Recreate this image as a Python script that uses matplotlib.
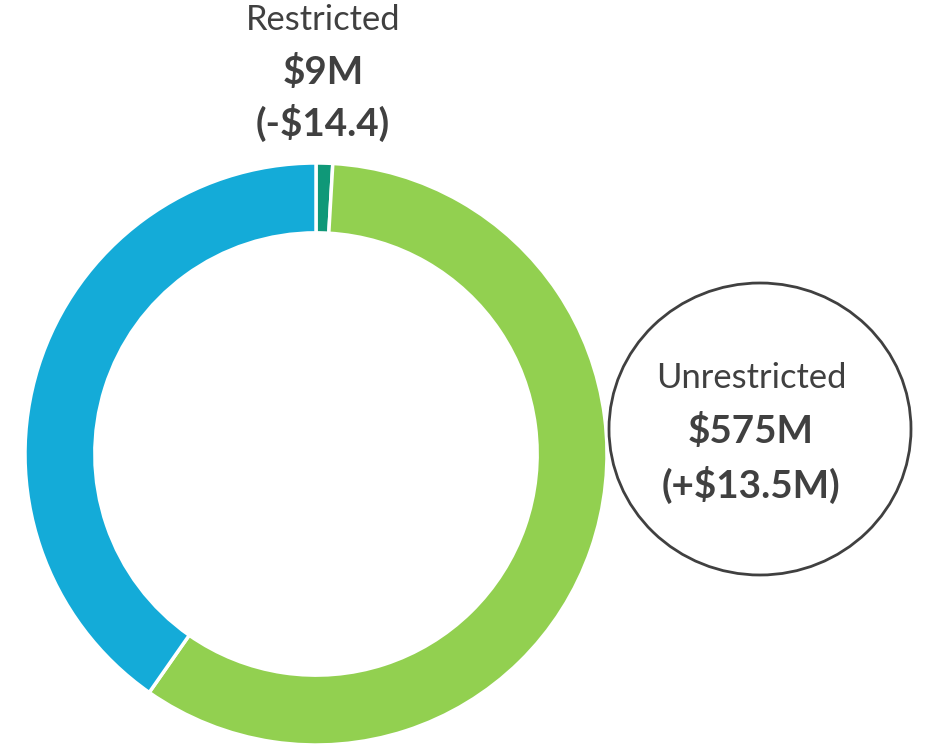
import matplotlib
matplotlib.use("Agg")
import matplotlib.pyplot as plt
from matplotlib.patches import Ellipse

categories = ["Restricted", "Unrestricted", "Other"]
values = [9, 575, 394]
colors = ["#0F9878", "#92D050", "#14ABD8"]
restricted_label = ["Restricted", "$9M", "(-$14.4)"]
unrestricted_label = ["Unrestricted", "$575M", "(+$13.5M)"]

W, H = 925, 747
fig = plt.figure(figsize=(W / 100, H / 100), dpi=100)
fig.patch.set_facecolor("white")

cx, cy, R = 316, 454, 291
ax = fig.add_axes([(cx - R) / W, (H - cy - R) / H, 2 * R / W, 2 * R / H])
ax.pie(values, colors=colors, startangle=90, counterclock=False, radius=1.0,
       wedgeprops=dict(width=0.24, edgecolor="white", linewidth=2.5))
ax.set_xlim(-1.0, 1.0)
ax.set_ylim(-1.0, 1.0)
ax.set_aspect("equal")
ax.axis("off")

font = "Lato"
tc = "#404040"
rs, bs = 24.8, 27.8

def fx(x):
    return x / W

def fy(y):
    return 1 - y / H

fig.text(fx(323), fy(20), restricted_label[0], ha="center", va="center",
         fontsize=rs, color=tc, family=font)
fig.text(fx(323), fy(72), restricted_label[1], ha="center", va="center",
         fontsize=bs, color=tc, family=font, fontweight="bold")
fig.text(fx(323), fy(123), restricted_label[2], ha="center", va="center",
         fontsize=bs, color=tc, family=font, fontweight="bold")

# annotation circle
ov = fig.add_axes([0, 0, 1, 1], facecolor="none")
ov.set_xlim(0, W)
ov.set_ylim(H, 0)
ov.axis("off")
ov.add_patch(Ellipse((760, 429), 302, 292, fill=False, edgecolor="#404040", linewidth=2))

fig.text(fx(751), fy(378), unrestricted_label[0], ha="center", va="center",
         fontsize=rs, color=tc, family=font)
fig.text(fx(751), fy(431), unrestricted_label[1], ha="center", va="center",
         fontsize=bs, color=tc, family=font, fontweight="bold")
fig.text(fx(751), fy(485), unrestricted_label[2], ha="center", va="center",
         fontsize=bs, color=tc, family=font, fontweight="bold")

fig.savefig("out.png", dpi=100, facecolor="white")
